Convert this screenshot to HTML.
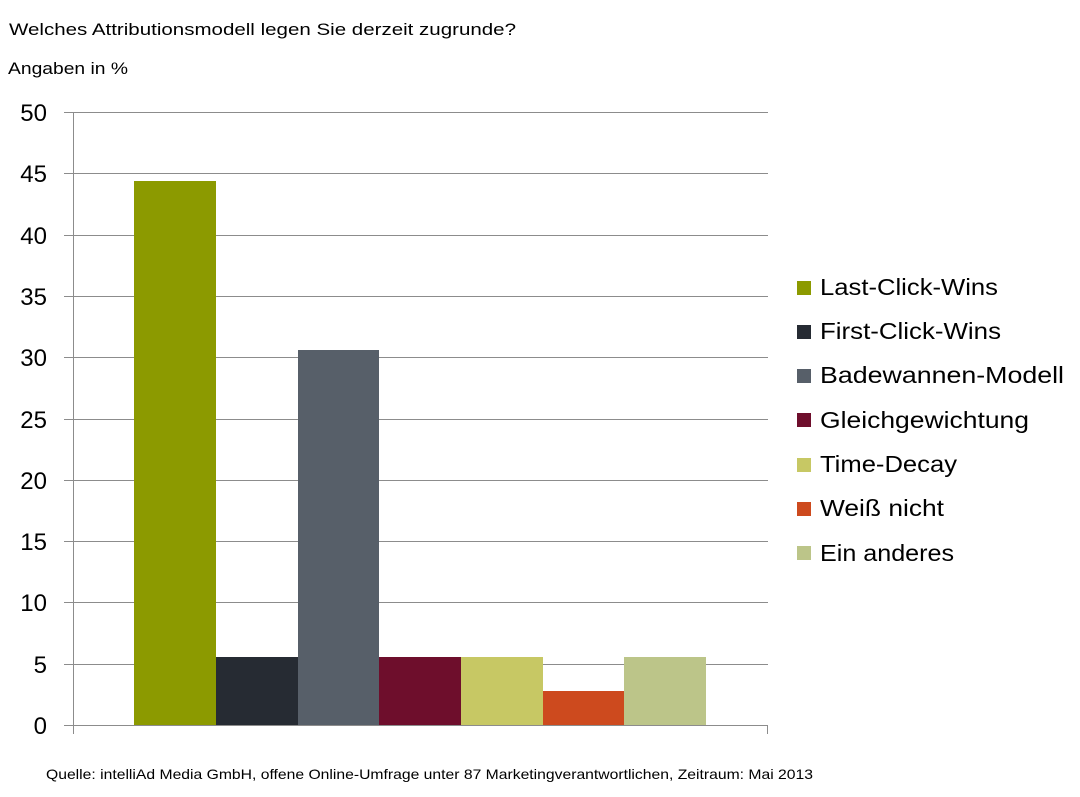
<!DOCTYPE html>
<html><head><meta charset="utf-8"><style>
html,body{margin:0;padding:0;background:#fff;}
svg text{font-family:"Liberation Sans",sans-serif;fill:#000;}
</style></head><body>
<svg width="1080" height="792" xmlns="http://www.w3.org/2000/svg">
<text x="9" y="35" font-size="17" textLength="507" lengthAdjust="spacingAndGlyphs">Welches Attributionsmodell legen Sie derzeit zugrunde?</text>
<text x="8" y="74" font-size="17" textLength="120" lengthAdjust="spacingAndGlyphs">Angaben in %</text>
<g stroke="#8c8c8c" stroke-width="1">
<line x1="64" y1="112.5" x2="768" y2="112.5"/>
<line x1="64" y1="173.5" x2="768" y2="173.5"/>
<line x1="64" y1="235.5" x2="768" y2="235.5"/>
<line x1="64" y1="296.5" x2="768" y2="296.5"/>
<line x1="64" y1="357.5" x2="768" y2="357.5"/>
<line x1="64" y1="419.5" x2="768" y2="419.5"/>
<line x1="64" y1="480.5" x2="768" y2="480.5"/>
<line x1="64" y1="541.5" x2="768" y2="541.5"/>
<line x1="64" y1="602.5" x2="768" y2="602.5"/>
<line x1="64" y1="664.5" x2="768" y2="664.5"/>
<line x1="64" y1="725.5" x2="768" y2="725.5"/>
<line x1="73.5" y1="112" x2="73.5" y2="734"/>
<line x1="767.5" y1="725" x2="767.5" y2="734"/>
</g>
<g font-size="24" text-anchor="end">
<text x="47" y="121">50</text><text x="47" y="182">45</text><text x="47" y="244">40</text>
<text x="47" y="305">35</text><text x="47" y="366">30</text><text x="47" y="428">25</text>
<text x="47" y="489">20</text><text x="47" y="550">15</text><text x="47" y="611">10</text>
<text x="47" y="673">5</text><text x="47" y="734">0</text>
</g>
<rect x="134" y="181" width="82" height="544" fill="#8c9a00"/>
<rect x="216" y="657" width="82" height="68" fill="#262b33"/>
<rect x="298" y="350" width="81" height="375" fill="#575f69"/>
<rect x="379" y="657" width="82" height="68" fill="#6e0e2c"/>
<rect x="461" y="657" width="82" height="68" fill="#c7c864"/>
<rect x="543" y="691" width="81" height="34" fill="#cd4a1e"/>
<rect x="624" y="657" width="82" height="68" fill="#bcc589"/>
<g font-size="23">
<rect x="797" y="281" width="14" height="14" fill="#8c9a00"/><text x="820" y="295" textLength="178" lengthAdjust="spacingAndGlyphs">Last-Click-Wins</text>
<rect x="797" y="325" width="14" height="14" fill="#262b33"/><text x="820" y="339" textLength="181" lengthAdjust="spacingAndGlyphs">First-Click-Wins</text>
<rect x="797" y="369" width="14" height="14" fill="#575f69"/><text x="820" y="383" textLength="244" lengthAdjust="spacingAndGlyphs">Badewannen-Modell</text>
<rect x="797" y="413" width="14" height="14" fill="#6e0e2c"/><text x="820" y="428" textLength="209" lengthAdjust="spacingAndGlyphs">Gleichgewichtung</text>
<rect x="797" y="458" width="14" height="14" fill="#c7c864"/><text x="820" y="472" textLength="137" lengthAdjust="spacingAndGlyphs">Time-Decay</text>
<rect x="797" y="502" width="14" height="14" fill="#cd4a1e"/><text x="820" y="516" textLength="124" lengthAdjust="spacingAndGlyphs">Weiß nicht</text>
<rect x="797" y="546" width="14" height="14" fill="#bcc589"/><text x="820" y="561" textLength="134" lengthAdjust="spacingAndGlyphs">Ein anderes</text>
</g>
<text x="46" y="779" font-size="14" textLength="767" lengthAdjust="spacingAndGlyphs">Quelle: intelliAd Media GmbH, offene Online-Umfrage unter 87 Marketingverantwortlichen, Zeitraum: Mai 2013</text>
</svg>
</body></html>
